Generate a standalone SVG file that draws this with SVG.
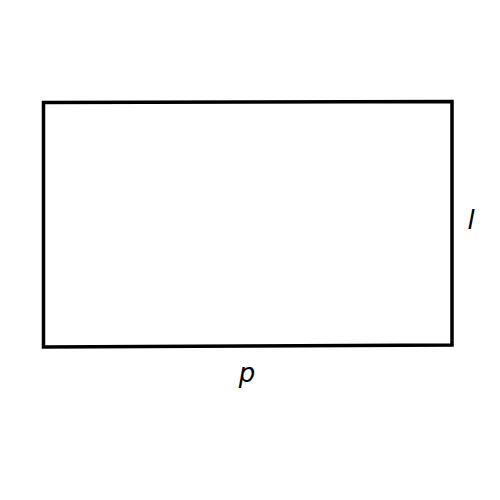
<svg xmlns="http://www.w3.org/2000/svg" width="500" height="500" viewBox="0 0 500 500">
<style>
.lbl{font-family:"DejaVu Sans","Liberation Sans",sans-serif;font-style:italic;font-size:26px;fill:#000}
</style>
<rect width="500" height="500" fill="#fff"/>
<g id="rectangle">
<polygon points="43.5,102.5 452,101.5 452,345 43.5,347" fill="none" stroke="#000" stroke-width="3.5"/>
</g>
<g id="labels">
<text class="lbl" x="471" y="229" text-anchor="middle">l</text>
<text class="lbl" x="247" y="382" text-anchor="middle">p</text>
</g>
</svg>
